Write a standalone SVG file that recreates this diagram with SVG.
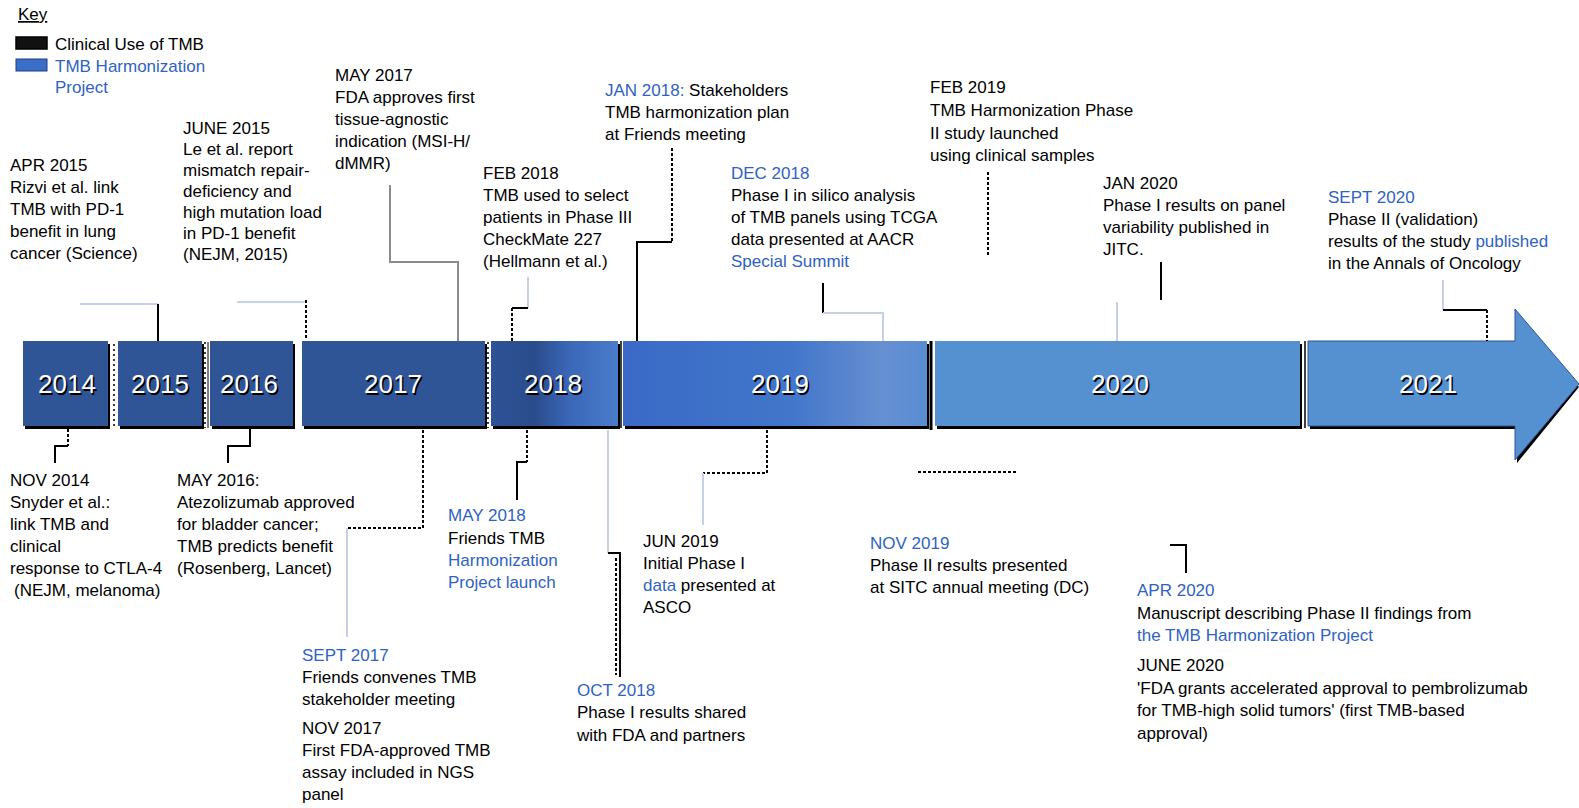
<svg xmlns="http://www.w3.org/2000/svg" width="1579" height="808" viewBox="0 0 1579 808">
<defs>
<style>
.t{font-family:"Liberation Sans",Arial,sans-serif;font-size:17px;fill:#000}
.b{fill:#2F62C4}
.yr{font-family:"Liberation Sans",Arial,sans-serif;font-size:26px;text-anchor:middle}
.ys{fill:#000}
.yw{fill:#fff}
.lk{fill:none;stroke:#000;stroke-width:2}
.ll{fill:none;stroke:#C6D1E6;stroke-width:2}
.lg{fill:none;stroke:#8C8C8C;stroke-width:2}
.dt{stroke-dasharray:3 2}
.sh{fill:#000}
.dk{fill:#2F5597}
.lt{fill:#5591D1}
</style>
<linearGradient id="g18" x1="0" x2="1" y1="0" y2="0">
<stop offset="0" stop-color="#2D5295"/>
<stop offset="0.35" stop-color="#2A4C8C"/>
<stop offset="0.6" stop-color="#3A66B6"/>
<stop offset="1" stop-color="#4A7DCC"/>
</linearGradient>
<linearGradient id="g19" x1="0" x2="1" y1="0" y2="0">
<stop offset="0" stop-color="#3A6AC6"/>
<stop offset="0.55" stop-color="#4176CA"/>
<stop offset="0.75" stop-color="#5A86CE"/>
<stop offset="0.85" stop-color="#6790D2"/>
<stop offset="1" stop-color="#5A8DD3"/>
</linearGradient>
</defs>
<rect width="1579" height="808" fill="#fff"/>

<g id="key">
<text class="t" x="18" y="20" text-decoration="underline">Key</text>
<rect x="16" y="37" width="31" height="12" fill="#111" stroke="#000" stroke-width="1.5"/>
<text class="t" x="55" y="50">Clinical Use of TMB</text>
<rect x="16" y="59" width="31" height="12" fill="#3A6EC8" stroke="#1F3F7A" stroke-width="1"/>
<text class="t b" x="55" y="72">TMB Harmonization</text>
<text class="t b" x="55" y="93">Project</text>
</g>

<g id="timeline">
<g id="y2014"><rect class="sh" x="25" y="344" width="85" height="85"/><rect class="dk" x="23" y="341" width="85" height="85"/>
<text class="yr ys" x="68.5" y="394.5">2014</text><text class="yr yw" x="67" y="393">2014</text></g>
<g id="y2015"><rect class="sh" x="120" y="344" width="84" height="85"/><rect class="dk" x="118" y="341" width="84" height="85"/>
<text class="yr ys" x="161.5" y="394.5">2015</text><text class="yr yw" x="160" y="393">2015</text></g>
<g id="y2016"><rect class="sh" x="212" y="344" width="83" height="85"/><rect class="dk" x="210" y="341" width="83" height="85"/>
<text class="yr ys" x="250.5" y="394.5">2016</text><text class="yr yw" x="249" y="393">2016</text></g>
<g id="y2017"><rect class="sh" x="304" y="344" width="183" height="85"/><rect class="dk" x="302" y="341" width="183" height="85"/>
<text class="yr ys" x="394.5" y="394.5">2017</text><text class="yr yw" x="393" y="393">2017</text></g>
<g id="y2018"><rect class="sh" x="493" y="344" width="127" height="85"/><rect x="491" y="341" width="127" height="85" fill="url(#g18)"/>
<text class="yr ys" x="554.5" y="394.5">2018</text><text class="yr yw" x="553" y="393">2018</text></g>
<g id="y2019"><rect class="sh" x="625" y="344" width="304" height="85"/><rect x="623" y="341" width="304" height="85" fill="url(#g19)"/>
<text class="yr ys" x="781.5" y="394.5">2019</text><text class="yr yw" x="780" y="393">2019</text></g>
<g id="y2020"><rect class="sh" x="937" y="344" width="365" height="85"/><rect class="lt" x="935" y="341" width="365" height="85"/>
<text class="yr ys" x="1121.5" y="394.5">2020</text><text class="yr yw" x="1120" y="393">2020</text></g>
<g id="y2021"><path class="sh" d="M1310 344 H1517 V312 L1579 387 L1517 463 V429 H1310 Z"/>
<path class="lt" d="M1308 341 H1515 V309 L1579 384 L1515 460 V426 H1308 Z" stroke="#2F5597" stroke-width="1"/>
<text class="yr ys" x="1429.5" y="394.5">2021</text><text class="yr yw" x="1428" y="393">2021</text></g>
<g id="separators">
<line x1="114" y1="344" x2="114" y2="426" stroke="#000" stroke-width="1.5" stroke-dasharray="2 3"/>
<line x1="205" y1="342" x2="205" y2="428" stroke="#000" stroke-width="1.5" stroke-dasharray="2 3"/>
<line x1="208" y1="342" x2="208" y2="428" stroke="#000" stroke-width="1"/>
<line x1="488" y1="342" x2="488" y2="428" stroke="#000" stroke-width="1.5" stroke-dasharray="2 3"/>
<line x1="621" y1="341" x2="621" y2="428" stroke="#000" stroke-width="1.5"/>
<line x1="931" y1="341" x2="931" y2="430" stroke="#000" stroke-width="3"/>
<line x1="1305" y1="341" x2="1305" y2="428" stroke="#000" stroke-width="1.5"/>
</g>
</g>

<g id="connectors">
<path class="ll" d="M80 304 H158"/><path class="lk" d="M158 304 V341"/>
<path class="ll" d="M237 302 H306"/><path class="lk dt" d="M306 300 V340"/>
<path class="lg" d="M390 185 V262 H458 V341"/>
<path class="ll" d="M528 277 V308"/><path class="lk" d="M528 308 H512"/><path class="lk dt" d="M512 308 V341"/>
<path class="lk dt" d="M672 148 V242"/><path class="lk" d="M672 242 H637 V341"/>
<path class="lk" d="M823 283 V313"/><path class="ll" d="M823 313 H883 V341"/>
<path class="lk dt" d="M988 172 V257"/>
<path class="lk" d="M1161 262 V300" stroke-width="3"/>
<path class="ll" d="M1117 302 V341"/>
<path class="ll" d="M1443 280 V310"/><path class="lk" d="M1443 310 H1487"/><path class="lk dt" d="M1487 310 V341"/>
<path class="lk dt" d="M68 429 V446"/><path class="lk" d="M68 446 H55 V463" stroke-width="2.5"/>
<path class="lk" d="M250 429 V446 H228 V463" stroke-width="2.5"/>
<path class="lk dt" d="M423 430 V528 H347"/><path class="ll" d="M347 528 V637"/>
<path class="lk dt" d="M527 430 V462"/><path class="lk" d="M527 462 H517 V500"/>
<path class="ll" d="M608 430 V553"/><path class="lk" d="M608 553 H620 V677" stroke-width="2.5"/><path class="lk dt" d="M616 558 V675" stroke-width="1.5"/>
<path class="lk dt" d="M767 430 V473 H703"/><path class="ll" d="M703 473 V525"/>
<path class="lk dt" d="M918 472 H1017"/>
<path class="lk" d="M1170 545 H1186 V573" stroke-width="2.5"/>
</g>

<g id="ev-2015-apr"><text class="t" x="10" y="171"><tspan x="10" y="171">APR 2015</tspan><tspan x="10" y="193">Rizvi et al. link</tspan><tspan x="10" y="215">TMB with PD-1</tspan><tspan x="10" y="237">benefit in lung</tspan><tspan x="10" y="259">cancer (Science)</tspan></text></g>

<g id="ev-2015-jun"><text class="t"><tspan x="183" y="134">JUNE 2015</tspan><tspan x="183" y="155">Le et al. report</tspan><tspan x="183" y="176">mismatch repair-</tspan><tspan x="183" y="197">deficiency and</tspan><tspan x="183" y="218">high mutation load</tspan><tspan x="183" y="239">in PD-1 benefit</tspan><tspan x="183" y="260">(NEJM, 2015)</tspan></text></g>

<g id="ev-2017-may"><text class="t"><tspan x="335" y="81">MAY 2017</tspan><tspan x="335" y="103">FDA approves first</tspan><tspan x="335" y="125">tissue-agnostic</tspan><tspan x="335" y="147">indication (MSI-H/</tspan><tspan x="335" y="169">dMMR)</tspan></text></g>

<g id="ev-2018-feb"><text class="t"><tspan x="483" y="179">FEB 2018</tspan><tspan x="483" y="201">TMB used to select</tspan><tspan x="483" y="223">patients in Phase III</tspan><tspan x="483" y="245">CheckMate 227</tspan><tspan x="483" y="267">(Hellmann et al.)</tspan></text></g>

<g id="ev-2018-jan"><text class="t"><tspan x="605" y="96"><tspan class="b">JAN 2018:</tspan> Stakeholders</tspan><tspan x="605" y="118">TMB harmonization plan</tspan><tspan x="605" y="140">at Friends meeting</tspan></text></g>

<g id="ev-2018-dec"><text class="t"><tspan x="731" y="179" class="b">DEC 2018</tspan><tspan x="731" y="201">Phase I in silico analysis</tspan><tspan x="731" y="223">of TMB panels using TCGA</tspan><tspan x="731" y="245">data presented at AACR</tspan><tspan x="731" y="267" class="b">Special Summit</tspan></text></g>

<g id="ev-2019-feb"><text class="t"><tspan x="930" y="93">FEB 2019</tspan><tspan x="930" y="116">TMB Harmonization Phase</tspan><tspan x="930" y="139">II study launched</tspan><tspan x="930" y="161">using clinical samples</tspan></text></g>

<g id="ev-2020-jan"><text class="t"><tspan x="1103" y="189">JAN 2020</tspan><tspan x="1103" y="211">Phase I results on panel</tspan><tspan x="1103" y="233">variability published in</tspan><tspan x="1103" y="255">JITC.</tspan></text></g>

<g id="ev-2020-sept"><text class="t"><tspan x="1328" y="203" class="b">SEPT 2020</tspan><tspan x="1328" y="225">Phase II (validation)</tspan><tspan x="1328" y="247">results of the study <tspan class="b">published</tspan></tspan><tspan x="1328" y="269">in the Annals of Oncology</tspan></text></g>

<g id="ev-2014-nov"><text class="t"><tspan x="10" y="486">NOV 2014</tspan><tspan x="10" y="508">Snyder et al.:</tspan><tspan x="10" y="530">link TMB and</tspan><tspan x="10" y="552">clinical</tspan><tspan x="10" y="574">response to CTLA-4</tspan><tspan x="14" y="596">(NEJM, melanoma)</tspan></text></g>

<g id="ev-2016-may"><text class="t"><tspan x="177" y="486">MAY 2016:</tspan><tspan x="177" y="508">Atezolizumab approved</tspan><tspan x="177" y="530">for bladder cancer;</tspan><tspan x="177" y="552">TMB predicts benefit</tspan><tspan x="177" y="574">(Rosenberg, Lancet)</tspan></text></g>

<g id="ev-2017-sept"><text class="t"><tspan x="302" y="661" class="b">SEPT 2017</tspan><tspan x="302" y="683">Friends convenes TMB</tspan><tspan x="302" y="705">stakeholder meeting</tspan><tspan x="302" y="734">NOV 2017</tspan><tspan x="302" y="756">First FDA-approved TMB</tspan><tspan x="302" y="778">assay included in NGS</tspan><tspan x="302" y="800">panel</tspan></text></g>

<g id="ev-2018-may"><text class="t"><tspan x="448" y="521" class="b">MAY 2018</tspan><tspan x="448" y="544">Friends TMB</tspan><tspan x="448" y="566" class="b">Harmonization</tspan><tspan x="448" y="588" class="b">Project launch</tspan></text></g>

<g id="ev-2018-oct"><text class="t"><tspan x="577" y="696" class="b">OCT 2018</tspan><tspan x="577" y="718">Phase I results shared</tspan><tspan x="577" y="741">with FDA and partners</tspan></text></g>

<g id="ev-2019-jun"><text class="t"><tspan x="643" y="547">JUN 2019</tspan><tspan x="643" y="569">Initial Phase I</tspan><tspan x="643" y="591"><tspan class="b">data</tspan> presented at</tspan><tspan x="643" y="613">ASCO</tspan></text></g>

<g id="ev-2019-nov"><text class="t"><tspan x="870" y="549" class="b">NOV 2019</tspan><tspan x="870" y="571">Phase II results presented</tspan><tspan x="870" y="593">at SITC annual meeting (DC)</tspan></text></g>

<g id="ev-2020-apr"><text class="t"><tspan x="1137" y="596" class="b">APR 2020</tspan><tspan x="1137" y="619">Manuscript describing Phase II findings from</tspan><tspan x="1137" y="641" class="b">the TMB Harmonization Project</tspan></text></g>

<g id="ev-2020-june"><text class="t"><tspan x="1137" y="671">JUNE 2020</tspan><tspan x="1137" y="694">'FDA grants accelerated approval to pembrolizumab</tspan><tspan x="1137" y="716">for TMB-high solid tumors' (first TMB-based</tspan><tspan x="1137" y="739">approval)</tspan></text></g>
</svg>
